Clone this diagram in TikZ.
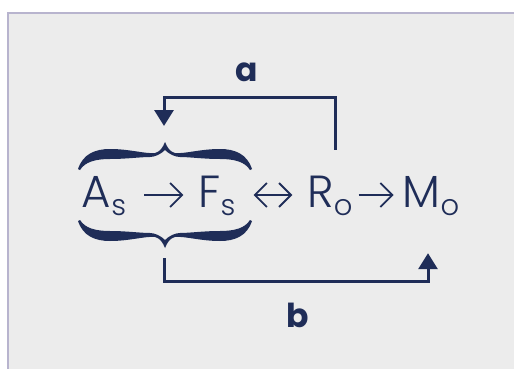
\documentclass[tikz,border=0pt]{standalone}
\usepackage{fontspec}
\setmainfont{Poppins}
\newfontfamily\thinfont{Poppins Light}
\usetikzlibrary{arrows.meta}
\definecolor{navy}{RGB}{31,45,88}
\definecolor{panel}{RGB}{236,236,236}
\definecolor{rim}{RGB}{184,180,206}
\newcommand{\termtxt}[2]{\thinfont{\fontsize{45}{48}\selectfont #1}\raisebox{-8pt}{\fontsize{29}{30}\selectfont #2}}
\tikzset{halfbrace/.pic={
  \fill[navy] (-87,27) .. controls (-82,12) and (-70,7) .. (-55,7)
    .. controls (-35,7) and (-20,12) .. (-10,11)
    .. controls (-5,10) and (-2,5) .. (0,0) -- (0,8)
    .. controls (-4,12) and (-10,15) .. (-15,15)
    .. controls (-25,15) and (-38,17) .. (-55,17)
    .. controls (-70,17) and (-80,20) .. (-85,28) -- cycle;
}}

\begin{document}
\begin{tikzpicture}[x=1pt,y=-1pt,
  term/.style={inner sep=0pt,text height=32pt,text depth=8pt,text=navy},
  arr/.style={draw=navy,line width=1.8pt},
  barb/.tip={Straight Barb[length=12pt,width=24pt]},
  loop/.style={draw=navy,line width=3pt,-{Triangle[length=16pt,width=19pt]}},
  tag/.style={text=navy,font=\fontsize{33}{34}\selectfont\bfseries}]
\useasboundingbox (0,0) rectangle (514,369);
\fill[white] (0,0) rectangle (514,369);
\fill[panel] (8,13) rectangle (514,369);
\draw[rim,line width=1.5pt] (8,369) -- (8,13) -- (514,13);
% the chain
\node[term] (As) at (104,195) {\termtxt{A}{s}};
\node[term] (Fs) at (217,195) {\termtxt{F}{s}};
\node[term] (Ro) at (330,195) {\termtxt{R}{o}};
\node[term] (Mo) at (431,195) {\termtxt{M}{o}};
\path[arr,-barb] (As) edge[shorten <=18pt,shorten >=15pt] (Fs);
\path[arr,barb-barb] (Fs) edge[shorten <=18pt,shorten >=15pt] (Ro);
\path[arr,-barb] (Ro) edge[shorten <=6pt,shorten >=9pt] (Mo);
% braces round A_s -> F_s
\pic at (165,142) {halfbrace};
\pic[xscale=-1] at (165,142) {halfbrace};
\pic[yscale=-1] at (165,248) {halfbrace};
\pic[scale=-1] at (165,248) {halfbrace};
\coordinate (aEnd) at (164,126);
\coordinate (bStart) at (164,258);
% feedback loops
\draw[loop] ([xshift=5pt,yshift=25pt]Ro.north) -- ++(0,-52) -| (aEnd);
\draw[loop] (bStart) -- ++(0,23) -| ([xshift=-3pt,yshift=-38pt]Mo.south);
\node[tag] (a) at (247,72) {a};
\node[tag] (b) at (298,315) {b};
\end{tikzpicture}
\end{document}
